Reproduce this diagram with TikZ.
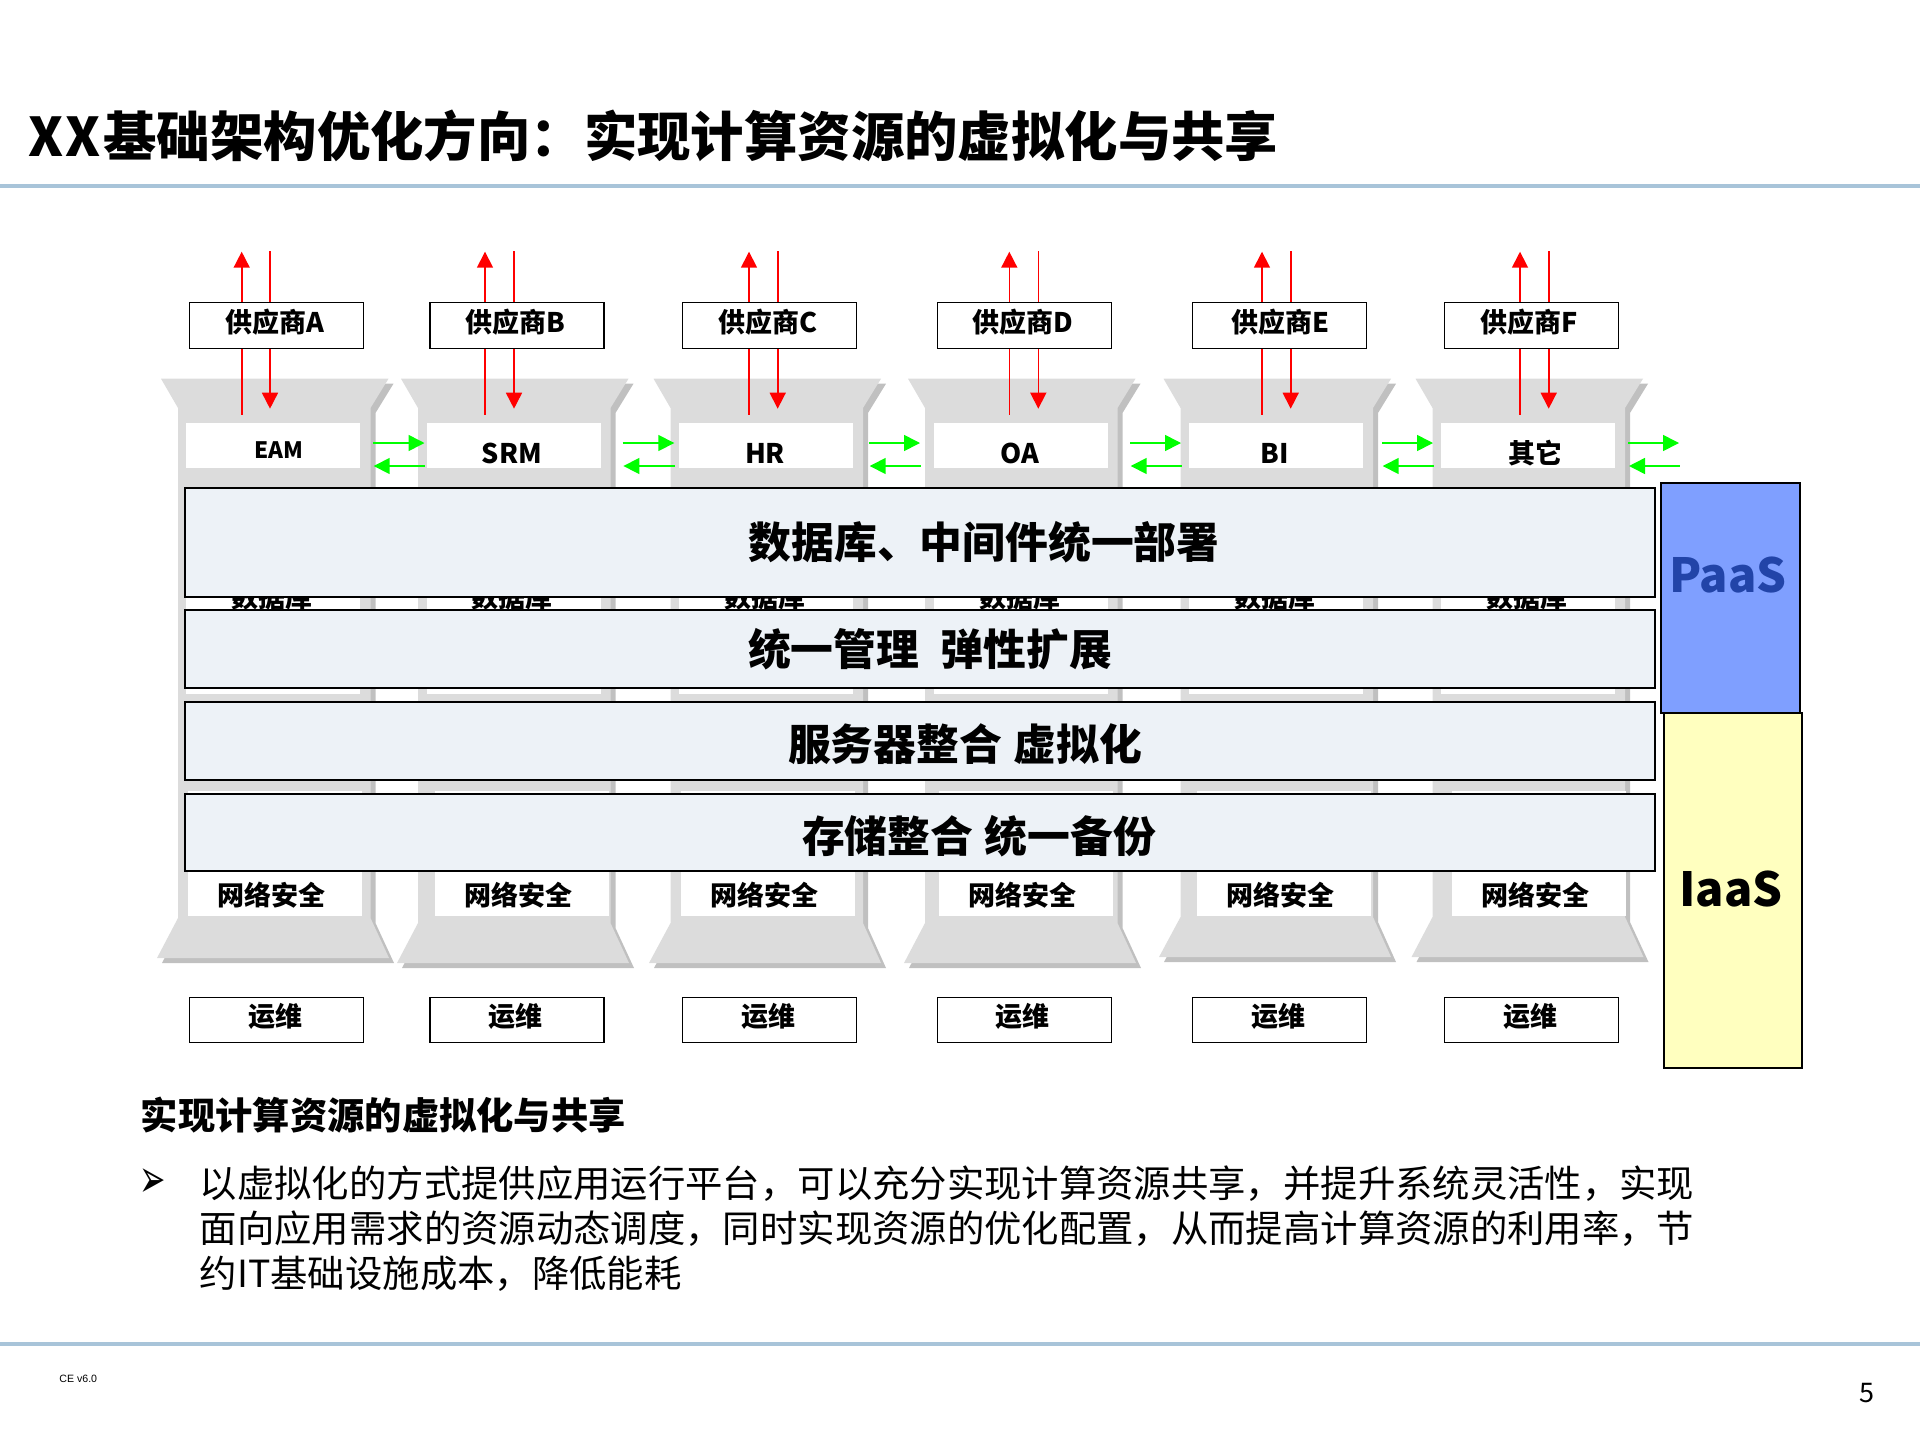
\documentclass[tikz,border=0pt]{standalone}
\usepackage{fontspec}
\setmainfont{Noto Sans CJK SC}
\newfontfamily\symbolfont{DejaVu Sans}
\newfontfamily\footfont{Liberation Sans}
\usetikzlibrary{arrows.meta,positioning}
\definecolor{rulecolor}{HTML}{A8C4D9}
\definecolor{pillarface}{HTML}{DCDCDC}
\definecolor{pillarside}{HTML}{C0C0C0}
\definecolor{barfill}{HTML}{EDF2F7}
\definecolor{paasfill}{HTML}{7F9FFF}
\definecolor{paastext}{HTML}{2244A8}
\definecolor{iaasfill}{HTML}{FFFFBF}
\newcommand{\cncomma}{\symbol{"FF0C}}
\newcommand{\cncolon}{\symbol{"FF1A}}
\tikzset{
    outerbox/.style={draw,fill=white,line width=0.65pt,inner sep=0pt,minimum width=87pt,minimum height=22.8pt},
    barbox/.style={draw,fill=barfill,line width=1pt,inner sep=0pt,minimum width=734.7pt},
    layerbox/.style={draw,line width=1pt,inner sep=0pt},
    boxlabel/.style={font=\bfseries\fontsize{13.5}{16}\selectfont,inner sep=0pt},
    barlabel/.style={font=\bfseries\fontsize{21.4}{25}\selectfont,inner sep=0pt},
    layerlabel/.style={font=\bfseries\fontsize{23.5}{28}\selectfont,inner sep=0pt},
    redlink/.style={draw=red,line width=0.8pt,-{Triangle[length=8pt,width=8pt]}},
    greenlink/.style={draw=green,line width=0.8pt,-{Triangle[length=8pt,width=8pt]}},
    headrule/.style={draw=rulecolor,line width=2pt}
}
\newcommand{\pillarshape}[3]{(#1,378.7) -- ({#1+227.5},378.7) -- ({#1+209.5},408) -- ({#1+209.5},{#3-40}) -- ({#2+232},#3) -- (#2,#3) -- ({#1+17},{#3-40}) -- ({#1+17},408) -- cycle}
\newcommand{\pillar}[5]{
    \fill [pillarside, shift={(5,5)}] \pillarshape{#1}{#2}{#3};
    \fill [pillarface] \pillarshape{#1}{#2}{#3};
    \fill [white] (#4,423) rectangle ({#4+174},468);
    \fill [white] (#4,540) rectangle ({#4+174},694);
    \fill [white] (#5,791) rectangle ({#5+174},916);
}
\newcommand{\supplylink}[3]{
    \coordinate (#1upfrom) at (#2,414.7);
    \coordinate (#1upto) at (#2,251.7);
    \coordinate (#1downfrom) at (#3,251);
    \coordinate (#1downto) at (#3,408.7);
    \draw [redlink] (#1upfrom) -- (#1upto);
    \draw [redlink] (#1downfrom) -- (#1downto);
}
\newcommand{\peerlink}[3]{
    \coordinate (#1outfrom) at (#2,443);
    \coordinate (#1outto) at (#3,443);
    \coordinate (#1backfrom) at ({#3+0.7},466);
    \coordinate (#1backto) at ({#2+0.7},466);
    \draw [greenlink] (#1outfrom) -- (#1outto);
    \draw [greenlink] (#1backfrom) -- (#1backto);
}
\begin{document}
\begin{tikzpicture}[x=0.5pt,y=-0.5pt]
    \useasboundingbox (0,0) rectangle (1920,1440);
    \coordinate (headleft) at (0,185.5);
    \coordinate (headright) at (1920,185.5);
    \coordinate (footleft) at (0,1344);
    \coordinate (footright) at (1920,1344);
    \draw [headrule] (headleft) -- (headright);
    \draw [headrule] (footleft) -- (footright);
    \node (title) [anchor=west,inner sep=0pt,font=\bfseries\fontsize{26.7}{32}\selectfont] at (28,136) {X\hspace{1.25pt}X\hspace{1.25pt}基础架构优化方向\cncolon 实现计算资源的虚拟化与共享};

    \pillar{161}{157}{958}{186}{188}
    \pillar{401}{397}{963}{427}{435}
    \pillar{653.5}{649}{963}{679}{681}
    \pillar{908}{904}{963}{934}{939}
    \pillar{1163.5}{1159}{957}{1189}{1197}
    \pillar{1415.5}{1411.5}{957}{1441}{1451.5}

    \node (eam) [boxlabel,font=\bfseries\fontsize{11.3}{14}\selectfont] at (279,450) {EAM};
    \node (srm) [boxlabel] at (512,453.7) {SRM};
    \node (hr) [boxlabel] at (765,453.7) {HR};
    \node (oa) [boxlabel] at (1020,453.7) {OA};
    \node (bi) [boxlabel] at (1275,453.7) {BI};
    \node (other) [boxlabel] at (1535,452.7) {其它};

    \node (dba) [boxlabel] at (271.7,597) {数据库};
    \node (dbb) [boxlabel] at (512,597) {数据库};
    \node (dbc) [boxlabel] at (765,597) {数据库};
    \node (dbd) [boxlabel] at (1020,597) {数据库};
    \node (dbe) [boxlabel] at (1275,597) {数据库};
    \node (dbf) [boxlabel] at (1527,597) {数据库};

    \node (neta) [boxlabel] at (271.7,895) {网络安全};
    \node (netb) [boxlabel] at (518,895) {网络安全};
    \node (netc) [boxlabel] at (764,895) {网络安全};
    \node (netd) [boxlabel] at (1022,895) {网络安全};
    \node (nete) [boxlabel] at (1280,895) {网络安全};
    \node (netf) [boxlabel] at (1535.7,895) {网络安全};

    \supplylink{a}{241.7}{270}
    \supplylink{b}{485}{514}
    \supplylink{c}{749}{777.7}
    \supplylink{d}{1009.3}{1038.3}
    \supplylink{e}{1262}{1290.7}
    \supplylink{f}{1520}{1548.7}

    \peerlink{ab}{373}{424.5}
    \peerlink{bc}{622.7}{674.3}
    \peerlink{cd}{869}{920}
    \peerlink{de}{1130}{1181}
    \peerlink{ef}{1382}{1433}
    \peerlink{fo}{1628.3}{1679}

    \node (vendora) [outerbox] at (276.2,325.5) {};
    \node (vendorb) [outerbox] at (517,325.5) {};
    \node (vendorc) [outerbox] at (769.5,325.5) {};
    \node (vendord) [outerbox] at (1024.3,325.5) {};
    \node (vendore) [outerbox] at (1279.5,325.5) {};
    \node (vendorf) [outerbox] at (1531.5,325.5) {};
    \node (vendoratext) [boxlabel] at (275,321.7) {供应商A};
    \node (vendorbtext) [boxlabel] at (515,321.7) {供应商B};
    \node (vendorctext) [boxlabel] at (768,321.7) {供应商C};
    \node (vendordtext) [boxlabel] at (1022.5,321.7) {供应商D};
    \node (vendoretext) [boxlabel] at (1280,321.7) {供应商E};
    \node (vendorftext) [boxlabel] at (1529.5,321.7) {供应商F};

    \node (opsa) [outerbox] at (276.2,1020) {};
    \node (opsb) [outerbox] at (517,1020) {};
    \node (opsc) [outerbox] at (769.5,1020) {};
    \node (opsd) [outerbox] at (1024.3,1020) {};
    \node (opse) [outerbox] at (1279.5,1020) {};
    \node (opsf) [outerbox] at (1531.5,1020) {};
    \node (opsatext) [boxlabel] at (275,1016.7) {运维};
    \node (opsbtext) [boxlabel] at (515,1016.7) {运维};
    \node (opsctext) [boxlabel] at (768,1016.7) {运维};
    \node (opsdtext) [boxlabel] at (1022.7,1016.7) {运维};
    \node (opsetext) [boxlabel] at (1278,1016.7) {运维};
    \node (opsftext) [boxlabel] at (1530,1016.7) {运维};

    \node (dbbar) [barbox,minimum height=54.7pt] at (920,542.3) {};
    \node (mgmtbar) [barbox,minimum height=39pt] at (920,649.2) {};
    \node (serverbar) [barbox,minimum height=39pt] at (920,741) {};
    \node (storebar) [barbox,minimum height=38.7pt] at (920,832.3) {};
    \node (dbbartext) [barlabel] at (984,542) {数据库、中间件统一部署};
    \node (mgmtbartext) [barlabel] at (930,649) {统一管理\hspace{0.5em}弹性扩展};
    \node (serverbartext) [barlabel] at (965,744.5) {服务器整合\hspace{0.27em}虚拟化};
    \node (storebartext) [barlabel] at (979,836) {存储整合\hspace{0.27em}统一备份};

    \node (iaas) [layerbox,fill=iaasfill,minimum width=69.2pt,minimum height=177.5pt] at (1733,890.5) {};
    \node (paas) [layerbox,fill=paasfill,minimum width=69.6pt,minimum height=115.2pt] at (1730.3,598) {};
    \node (paastext) [layerlabel,text=paastext] at (1728,575) {PaaS};
    \node (iaastext) [layerlabel] at (1731,889) {IaaS};

    \node (subtitle) [anchor=west,inner sep=0pt,font=\bfseries\fontsize{18.65}{22}\selectfont] at (140.5,1115.5) {实现计算资源的虚拟化与共享};
    \node (bullet) [inner sep=0pt,transform shape,xscale=1.05,yscale=1.8,font=\symbolfont\fontsize{15}{18}\selectfont] at (153,1183) {➢};
    \node (body) [anchor=north west,inner sep=0pt,align=left,font=\fontsize{18.68}{22.65}\selectfont] at (199.5,1165) {以虚拟化的方式提供应用运行平台\cncomma 可以充分实现计算资源共享\cncomma 并提升系统灵活性\cncomma 实现\\面向应用需求的资源动态调度\cncomma 同时实现资源的优化配置\cncomma 从而提高计算资源的利用率\cncomma 节\\约IT基础设施成本\cncomma 降低能耗};

    \node (version) [anchor=west,inner sep=0pt,font=\footfont\fontsize{5.3}{6.5}\selectfont] at (59,1379) {CE v6.0};
    \node (pagenum) [inner sep=0pt,font=\fontsize{13.5}{16}\selectfont] at (1867,1393) {5};
\end{tikzpicture}
\end{document}
